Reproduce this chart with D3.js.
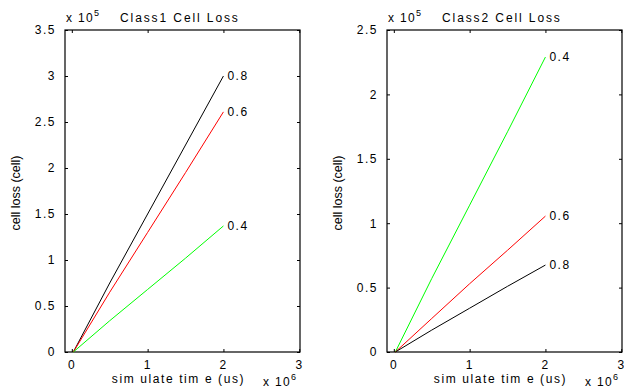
<!DOCTYPE html>
<html>
<head>
<meta charset="utf-8">
<script src="https://cdn.jsdelivr.net/npm/d3@7"></script>
<style>
  body { margin: 0; background: #fff; }
  svg { display: block; }
  text { font-family: "Liberation Sans", Arial, sans-serif; fill: #000; }
</style>
</head>
<body>
<div id="chart"></div>
<script>
// simulate time, units of 1e6 us
const times = [0.02, 0.5, 1.0, 1.5, 2.0];

// Class1 cell loss, units of 1e5 cells
const class1Load = ['0.8', '0.6', '0.4'];
const class1Values = [
  [0, 0.75, 1.5, 2.25, 3.0],
  [0, 0.65, 1.3, 1.95, 2.61],
  [0, 0.34, 0.68, 1.02, 1.37]
];

// Class2 cell loss, units of 1e5 cells
const class2Load = ['0.4', '0.6', '0.8'];
const class2Values = [
  [0, 0.57, 1.14, 1.71, 2.29],
  [0, 0.26, 0.53, 0.79, 1.055],
  [0, 0.17, 0.34, 0.51, 0.675]
];

const xTicks = [0, 1, 2, 3];
const yTicks1 = [0, 0.5, 1, 1.5, 2, 2.5, 3, 3.5];
const yTicks2 = [0, 0.5, 1, 1.5, 2, 2.5];

const loadColor = { '0.8': '#000000', '0.6': '#ff0000', '0.4': '#00ff00' };

const W = 624, H = 388;
const svg = d3.select('#chart').append('svg')
  .attr('width', W)
  .attr('height', H);

function panel(opts) {
  const { left, title, load, values, yMax, yTicks } = opts;
  const top = 30, bottom = 352, right = left + 235;

  const x = d3.scaleLinear().domain([-0.09, 3.01]).range([left, right]);
  const y = d3.scaleLinear().domain([0, yMax]).range([bottom, top]);

  const g = svg.append('g');
  const fmt = d => d === 0 ? '0' : String(d);

  // box
  g.append('rect')
    .attr('x', left).attr('y', top)
    .attr('width', right - left).attr('height', bottom - top)
    .attr('fill', 'none').attr('stroke', '#000').attr('stroke-width', 1.2);

  // axes with inward ticks on all four sides
  const xAx = g.append('g').attr('transform', `translate(0,${bottom})`)
    .call(d3.axisBottom(x).tickValues(xTicks).tickSize(-3).tickPadding(8).tickFormat(fmt))
    .call(a => a.select('.domain').remove());
  g.append('g').attr('transform', `translate(0,${top})`)
    .call(d3.axisTop(x).tickValues(xTicks).tickSize(-3).tickFormat(''))
    .call(a => a.select('.domain').remove());
  const yAx = g.append('g').attr('transform', `translate(${left},0)`)
    .call(d3.axisLeft(y).tickValues(yTicks).tickSize(-3).tickPadding(9).tickFormat(fmt))
    .call(a => a.select('.domain').remove());
  g.append('g').attr('transform', `translate(${right},0)`)
    .call(d3.axisRight(y).tickValues(yTicks).tickSize(-3).tickFormat(''))
    .call(a => a.select('.domain').remove());

  g.selectAll('.tick text')
    .attr('font-size', 12)
    .style('font-family', '"Liberation Sans", Arial, sans-serif');
  yAx.selectAll('.tick text').attr('letter-spacing', 1.5);
  xAx.selectAll('.tick text').attr('dx', -1);
  g.selectAll('.tick line').attr('stroke-width', 1);

  // series lines
  const line = d3.line()
    .x((d, i) => x(times[i]))
    .y(d => y(d));

  values.forEach((vals, k) => {
    g.append('path')
      .attr('d', line(vals))
      .attr('fill', 'none')
      .attr('stroke', loadColor[load[k]])
      .attr('stroke-width', 1);
    g.append('text')
      .attr('x', x(times[times.length - 1]) + 4)
      .attr('y', y(vals[vals.length - 1]) + 4)
      .attr('font-size', 12)
      .attr('letter-spacing', 1.5)
      .text(load[k]);
  });

  // title and exponent labels
  g.append('text')
    .attr('x', left + 55).attr('y', 22)
    .attr('font-size', 12)
    .attr('letter-spacing', 1.9)
    .text(title);

  const ex = g.append('text')
    .attr('x', left + 1).attr('y', 22)
    .attr('font-size', 12)
    .attr('letter-spacing', 1.3);
  ex.append('tspan').text('x 10');
  ex.append('tspan').attr('dy', -6).attr('font-size', 9).text('5');

  const ex6 = g.append('text')
    .attr('x', right - 37).attr('y', 386)
    .attr('font-size', 12)
    .attr('letter-spacing', 1.3);
  ex6.append('tspan').text('x 10');
  ex6.append('tspan').attr('dy', -6).attr('font-size', 9).text('6');

  g.append('text')
    .attr('x', (left + right) / 2 - 4).attr('y', 383)
    .attr('text-anchor', 'middle')
    .attr('font-size', 12)
    .attr('letter-spacing', 1.6)
    .text('sim ulate tim e (us)');

  g.append('text')
    .attr('transform', `translate(${left - 45},${(top + bottom) / 2 + 2}) rotate(-90)`)
    .attr('text-anchor', 'middle')
    .attr('font-size', 12.5)
    .text('cell loss (cell)');
}

panel({ left: 65, title: 'Class1 Cell Loss', load: class1Load, values: class1Values, yMax: 3.5, yTicks: yTicks1 });
panel({ left: 387, title: 'Class2 Cell Loss', load: class2Load, values: class2Values, yMax: 2.5, yTicks: yTicks2 });
</script>
</body>
</html>
